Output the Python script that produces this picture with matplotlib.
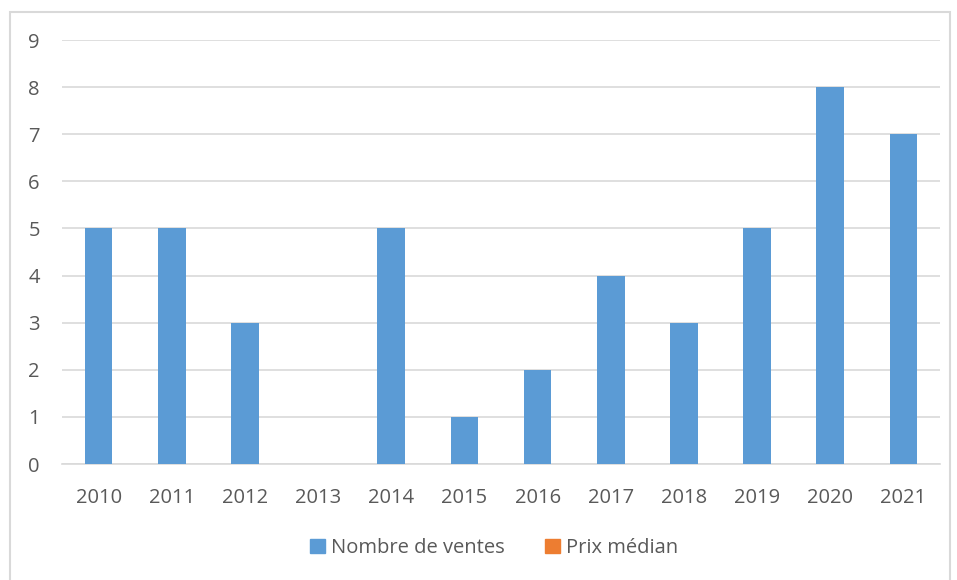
import matplotlib
matplotlib.use("Agg")
import matplotlib.pyplot as plt
from matplotlib.patches import Patch, Rectangle

years = ["2010", "2011", "2012", "2013", "2014", "2015",
         "2016", "2017", "2018", "2019", "2020", "2021"]
nombre_ventes = [5, 5, 3, 0, 5, 1, 2, 4, 3, 5, 8, 7]

blue = "#5B9BD5"
orange = "#ED7D31"
text_col = "#595959"
grid_col = "#D9D9D9"

plt.rcParams["font.family"] = ["Open Sans", "DejaVu Sans"]

fig = plt.figure(figsize=(9.57, 5.8), dpi=100)
ax = fig.add_axes([62 / 957, 1 - 464 / 580, (940 - 62) / 957, (464 - 40) / 580])

x = range(len(years))
ax.bar(x, nombre_ventes, width=0.38, color=blue, zorder=3)

ax.set_xlim(-0.5, len(years) - 0.5)
ax.set_ylim(0, 9)
ax.set_yticks(range(0, 10))
ax.set_xticks(list(x))
ax.set_xticklabels(years)
ax.tick_params(axis="both", length=0, labelsize=14.5, colors=text_col)
ax.tick_params(axis="x", pad=17)
ax.tick_params(axis="y", pad=16)

ax.grid(axis="y", color=grid_col, linewidth=1.2, zorder=0)
for side in ["top", "right", "left"]:
    ax.spines[side].set_visible(False)
ax.spines["bottom"].set_color(grid_col)
ax.spines["bottom"].set_linewidth(1.2)

# chart frame
fig.patches.append(Rectangle((10 / 957, -0.1), 940 / 957, 1 - 12 / 580 + 0.1,
                             transform=fig.transFigure, fill=False,
                             edgecolor="#D9D9D9", linewidth=1.5))

handles = [Patch(color=blue, label="Nombre de ventes"),
           Patch(color=orange, label="Prix médian")]
fig.legend(handles=handles, loc="center", bbox_to_anchor=(0.516, 1 - 548 / 580),
           ncol=2, frameon=False, fontsize=14.5, labelcolor=text_col,
           handlelength=0.75, handleheight=0.75, handletextpad=0.3,
           columnspacing=2.0)

fig.savefig("out.png", dpi=100)
